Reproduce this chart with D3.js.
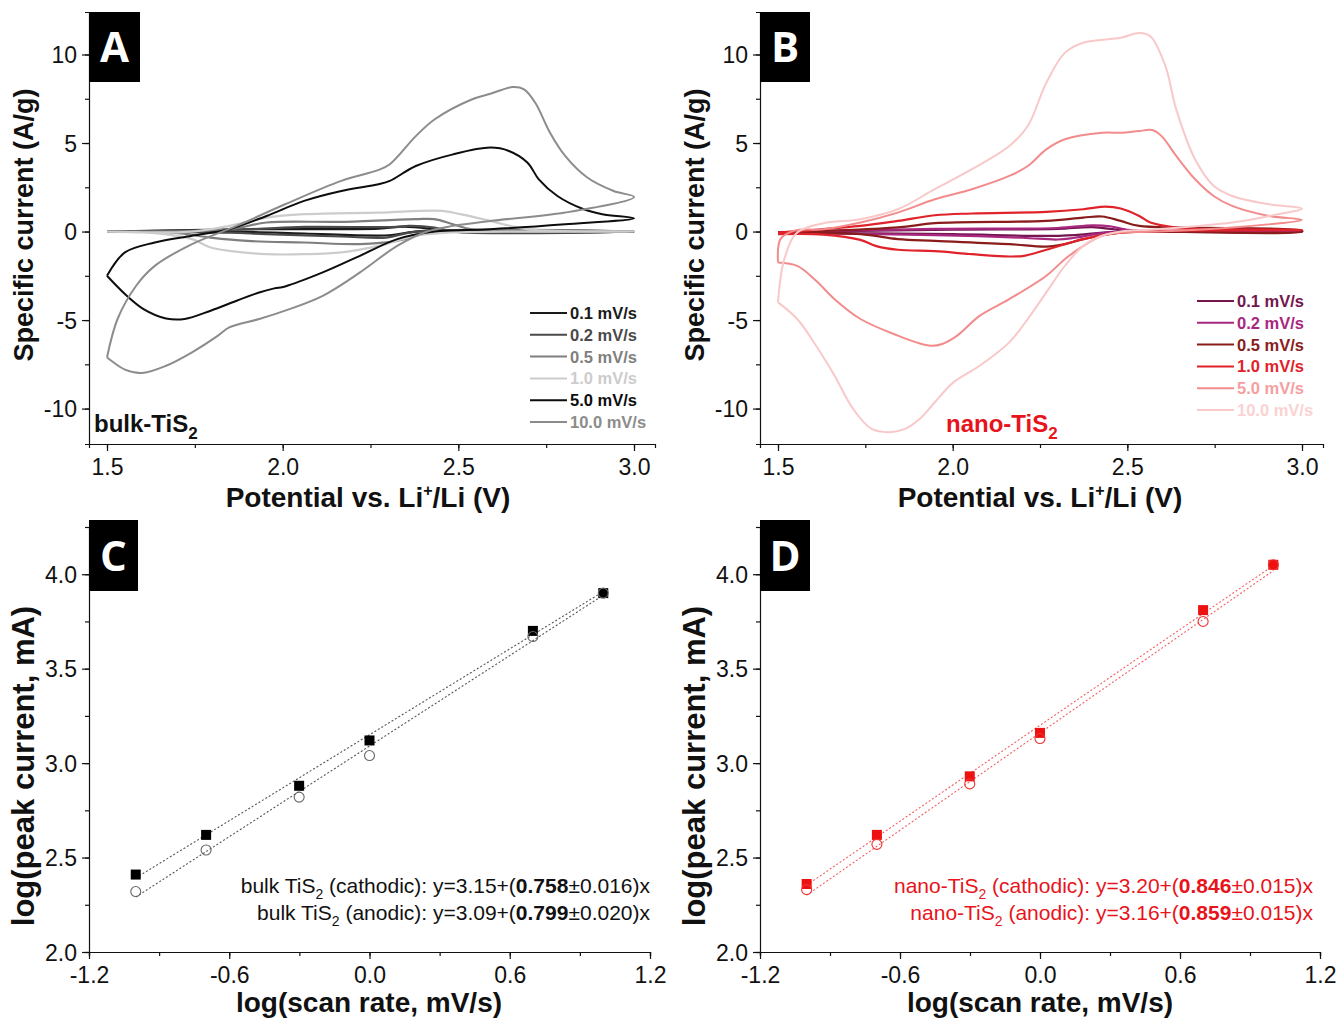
<!DOCTYPE html>
<html>
<head>
<meta charset="utf-8">
<script src="https://cdn.jsdelivr.net/npm/d3@7"></script>
<style>
  body { margin: 0; background: #fff; }
  svg { display: block; font-family: "Liberation Sans", Arial, sans-serif; }
</style>
</head>
<body>
<svg id="fig" width="1338" height="1021"></svg>
<script>
// ---- data --------------------------------------------------------------
var rateLabels = ['0.1 mV/s', '0.2 mV/s', '0.5 mV/s', '1.0 mV/s', '5.0 mV/s', '10.0 mV/s'];

// bulk TiS2, [potential V, current A/g], anodic sweep then cathodic sweep
var bulk01 = [[1.5,0],[1.9,0.13],[2.273,0.17],[2.347,0.28],[2.432,0.13],[2.485,0],[3.0,0],
  [2.379,0],[2.305,-0.21],[2.061,-0.11],[1.9,-0.02],[1.5,0]];
var bulk02 = [[1.5,0],[1.9,0.13],[2.061,0.26],[2.326,0.26],[2.358,0.32],[2.432,0.23],[2.485,0],[3.0,0],
  [2.379,0],[2.295,-0.34],[2.167,-0.28],[1.954,-0.15],[1.848,-0.06],[1.5,0]];
var bulk05 = [[1.5,0],[1.848,0.13],[1.954,0.51],[2.167,0.55],[2.379,0.7],[2.432,0.7],[2.485,0.41],[2.538,0.13],[3.0,0],
  [2.432,0],[2.326,-0.53],[2.22,-0.71],[2.061,-0.62],[1.9,-0.53],[1.795,-0.34],[1.689,-0.06],[1.5,0]];
var bulk10 = [[1.5,0],[1.742,0],[1.848,0.32],[1.954,0.79],[2.061,0.98],[2.273,1.07],[2.453,1.17],[2.506,0.98],[2.591,0.6],[2.697,0.13],[3.0,0],
  [2.48,-0.05],[2.379,-0.24],[2.273,-0.81],[2.167,-1.18],[2.061,-1.28],[1.954,-1.28],[1.848,-1.09],[1.795,-0.9],[1.742,-0.43],[1.636,-0.09],[1.5,-0.02]];
var bulk50 = [[1.5,-2.5],[1.551,-1.18],[1.636,-0.62],[1.742,-0.24],[1.848,0.13],[1.954,0.88],[2.061,1.73],[2.167,2.29],[2.273,2.67],[2.305,2.86],[2.379,3.7],[2.485,4.36],[2.591,4.74],[2.644,4.55],[2.697,3.89],[2.729,2.95],[2.782,2.01],[2.857,1.26],[2.91,0.98],[3.0,0.75],
  [2.804,0.41],[2.591,0.13],[2.432,0],[2.326,-0.43],[2.22,-1.37],[2.114,-2.31],[2.007,-3.1],[1.976,-3.21],[1.933,-3.44],[1.869,-3.91],[1.795,-4.47],[1.721,-4.94],[1.668,-4.91],[1.604,-4.38],[1.551,-3.53],[1.5,-2.5]];
var bulk100 = [[1.5,-7.11],[1.53,-4.94],[1.583,-3.06],[1.636,-1.94],[1.742,-0.71],[1.869,0.32],[2.007,1.54],[2.167,2.86],[2.273,3.48],[2.305,3.8],[2.379,5.39],[2.432,6.33],[2.538,7.46],[2.591,7.78],[2.655,8.16],[2.687,8.03],[2.719,7.27],[2.761,5.58],[2.804,4.27],[2.867,3.05],[2.942,2.29],[3.0,1.95],
  [2.804,1.07],[2.591,0.6],[2.485,0.32],[2.411,0],[2.326,-0.81],[2.22,-2.31],[2.114,-3.63],[2.007,-4.47],[1.933,-4.94],[1.848,-5.41],[1.816,-5.88],[1.742,-6.82],[1.668,-7.58],[1.599,-7.99],[1.551,-7.8],[1.5,-7.11]];

// nano TiS2
var nano01 = [[1.5,-0.03],[2.0,0.1],[2.3,0.15],[2.4,0.25],[2.5,0.05],[3.0,0.02],
  [3.0,0],[2.45,-0.03],[2.35,-0.2],[2.25,-0.25],[2.0,-0.15],[1.5,-0.05]];
var nano02 = [[1.5,-0.04],[1.95,0.15],[2.3,0.2],[2.4,0.35],[2.45,0.3],[2.5,0.1],[3.0,0.02],
  [3.0,0],[2.45,-0.05],[2.35,-0.35],[2.3,-0.45],[2.2,-0.35],[1.95,-0.2],[1.5,-0.08]];
var nano05 = [[1.5,-0.06],[1.843,0.23],[1.949,0.47],[2.268,0.6],[2.374,0.79],[2.428,0.85],[2.481,0.6],[2.534,0.32],[3.0,0.06],
  [3.0,0],[2.481,-0.06],[2.374,-0.43],[2.321,-0.71],[2.268,-0.85],[2.162,-0.71],[1.949,-0.53],[1.843,-0.43],[1.736,-0.15],[1.5,-0.11]];
var nano10 = [[1.5,-0.06],[1.736,0.32],[1.843,0.6],[1.949,0.92],[2.055,1.02],[2.268,1.11],[2.374,1.26],[2.438,1.41],[2.481,1.3],[2.534,0.88],[2.566,0.51],[2.64,0.23],[2.747,0.13],[3.0,0.09],
  [2.481,-0.06],[2.374,-0.43],[2.268,-1.03],[2.204,-1.37],[2.162,-1.41],[2.055,-1.28],[1.949,-1.11],[1.843,-1.03],[1.779,-0.81],[1.736,-0.47],[1.63,-0.17],[1.5,-0.15]];
var nano50 = [[1.5,-1.75],[1.507,-0.43],[1.545,0.04],[1.63,0.13],[1.736,0.51],[1.843,1.07],[1.949,1.82],[2.055,2.39],[2.162,3.14],[2.215,3.7],[2.268,4.64],[2.321,5.21],[2.428,5.58],[2.481,5.58],[2.534,5.68],[2.571,5.73],[2.598,5.39],[2.64,4.27],[2.694,2.95],[2.747,2.01],[2.8,1.45],[2.906,0.88],[3.0,0.66],
  [2.8,0.23],[2.587,0],[2.481,-0.06],[2.428,-0.24],[2.374,-0.81],[2.321,-1.56],[2.268,-2.5],[2.162,-3.82],[2.077,-4.76],[2.013,-5.88],[1.97,-6.35],[1.938,-6.45],[1.896,-6.26],[1.843,-5.88],[1.736,-4.94],[1.662,-3.82],[1.609,-2.78],[1.555,-1.94],[1.5,-1.75]];
var nano100 = [[1.5,-4.0],[1.518,-1.56],[1.555,-0.06],[1.63,0.47],[1.736,0.7],[1.843,1.26],[1.949,2.39],[2.055,3.52],[2.162,4.83],[2.215,5.96],[2.268,8.4],[2.321,10.09],[2.374,10.66],[2.481,10.94],[2.534,11.22],[2.566,11.03],[2.609,9.34],[2.64,6.9],[2.694,4.08],[2.747,2.58],[2.8,2.01],[2.906,1.54],[3.0,1.3],
  [2.906,0.88],[2.8,0.51],[2.587,0.13],[2.481,0],[2.428,-0.24],[2.374,-0.81],[2.321,-1.94],[2.268,-3.44],[2.215,-4.94],[2.162,-6.26],[2.077,-7.58],[2.002,-8.52],[1.949,-9.64],[1.906,-10.58],[1.864,-11.15],[1.821,-11.33],[1.768,-11.15],[1.715,-10.02],[1.662,-8.14],[1.609,-6.45],[1.555,-4.94],[1.5,-4.0]];

// log(scan rate) vs log(peak current)
var logRate = [-1, -0.699, -0.301, 0, 0.699, 1];
var bulkCath = [2.41, 2.62, 2.88, 3.12, 3.70, 3.90];
var bulkAnod = [2.32, 2.54, 2.82, 3.04, 3.67, 3.90];
var nanoCath = [2.36, 2.62, 2.93, 3.16, 3.81, 4.05];
var nanoAnod = [2.33, 2.57, 2.89, 3.13, 3.75, 4.05];
var bulkFit = [[3.15, 0.758], [3.09, 0.799]];   // [intercept, slope] cathodic, anodic
var nanoFit = [[3.20, 0.846], [3.16, 0.859]];

var cvTicks = [1.5, 1.75, 2.0, 2.25, 2.5, 2.75, 3.0];
var cvYTicks = [-10, -7.5, -5, -2.5, 0, 2.5, 5, 7.5, 10];
var logXTicks = [-1.2, -0.9, -0.6, -0.3, 0, 0.3, 0.6, 0.9, 1.2];
var logYTicks = [2.0, 2.25, 2.5, 2.75, 3.0, 3.25, 3.5, 3.75, 4.0, 4.25];

var bulkColors = ['#1a1a1a', '#4a4a4a', '#7f7f7f', '#cccccc', '#0d0d0d', '#8c8c8c'];
var nanoColors = ['#741650', '#a8287f', '#8a1c1c', '#e0232b', '#f28c8c', '#f9c8c8'];
var nanoText = ['#741650', '#a8287f', '#8a1c1c', '#e0232b', '#f4a0a0', '#fad2d2'];

// ---- helpers ------------------------------------------------------------
var svg = d3.select('#fig');

function axes(x, y, xMaj, xMin, yMaj, yMin, xfmt, yfmt, y0, x0) {
  var gx = svg.append('g').attr('transform', 'translate(0,' + y0 + ')');
  gx.call(d3.axisBottom(x).tickValues(xMin).tickSizeOuter(0).tickSize(4).tickFormat(''));
  var gx2 = svg.append('g').attr('transform', 'translate(0,' + y0 + ')');
  gx2.call(d3.axisBottom(x).tickValues(xMaj).tickSizeOuter(0).tickSize(7).tickFormat(xfmt));
  gx2.select('.domain').remove();
  var gy = svg.append('g').attr('transform', 'translate(' + x0 + ',0)');
  gy.call(d3.axisLeft(y).tickValues(yMin).tickSizeOuter(0).tickSize(4).tickFormat(''));
  var gy2 = svg.append('g').attr('transform', 'translate(' + x0 + ',0)');
  gy2.call(d3.axisLeft(y).tickValues(yMaj).tickSizeOuter(0).tickSize(7).tickFormat(yfmt));
  gy2.select('.domain').remove();
  [gx, gx2, gy, gy2].forEach(function(g){
    g.selectAll('path, line').attr('stroke', '#111').attr('stroke-width', 1.2);
    g.selectAll('text').attr('fill', '#111').style('font-size', '23px')
      .style('font-family', '"Liberation Sans", Arial, sans-serif');
  });
  gx2.selectAll('text').attr('dy', null).attr('y', 31);
  gy2.selectAll('text').attr('x', -12).attr('dy', '0.36em');
}

function letterBox(x, y, w, h, letter) {
  svg.append('rect').attr('x', x).attr('y', y).attr('width', w).attr('height', h).attr('fill', '#000');
  svg.append('text').attr('x', x + w / 2).attr('y', y + h / 2 + 15).attr('text-anchor', 'middle')
    .attr('fill', '#fff').style('font-family', '"Open Sans", sans-serif').style('font-weight', 700)
    .style('font-size', '42px').text(letter);
}

function yTitle(cx, cy, txt, size) {
  svg.append('text').attr('transform', 'translate(' + cx + ',' + cy + ') rotate(-90)')
    .attr('text-anchor', 'middle').style('font-weight', 700).style('font-size', size + 'px').attr('fill', '#111')
    .text(txt);
}

function cvPanel(series, colors, textColors, x0, x1, xL, xR, legX, legY0, nameX, name, nameColor) {
  var perV = (xR - xL) / 1.5;
  var x = d3.scaleLinear().domain([1.5 - (xL - x0) / perV, 1.5 + (x1 - xL) / perV]).range([x0, x1]);
  var y = d3.scaleLinear().domain([-12, 12.4]).range([444, 12]);
  var fmt = function(d){ return d.toFixed(1); };
  axes(x, y, [1.5, 2.0, 2.5, 3.0], cvTicks, [-10, -5, 0, 5, 10], cvYTicks, fmt, function(d){ return String(d); }, 444, x0);

  var line = d3.line().x(function(d){ return x(d[0]); }).y(function(d){ return y(d[1]); })
    .curve(d3.curveCatmullRom.alpha(0.5));
  svg.append('g').selectAll('path').data(series).enter().append('path')
    .attr('d', line).attr('fill', 'none')
    .attr('stroke', function(d, i){ return colors[i]; })
    .attr('stroke-width', function(d, i){ return i < 4 ? 2.2 : 2; });

  var leg = svg.append('g');
  rateLabels.forEach(function(r, i){
    var yy = legY0 + i * 21.8;
    leg.append('line').attr('x1', legX).attr('x2', legX + 37).attr('y1', yy).attr('y2', yy)
      .attr('stroke', colors[i]).attr('stroke-width', 2);
    leg.append('text').attr('x', legX + 40).attr('y', yy + 6).attr('fill', textColors[i])
      .style('font-weight', 700).style('font-size', '16.5px').text(r);
  });

  var t = svg.append('text').attr('x', nameX).attr('y', 432).attr('fill', nameColor)
    .style('font-weight', 700).style('font-size', '24px');
  t.append('tspan').text(name);
  t.append('tspan').attr('dy', 7).style('font-size', '17px').text('2');
}

function logPanel(cath, anod, fits, markColor, circColor, lineColor, x0, x1, textRight, lines) {
  var x = d3.scaleLinear().domain([-1.2, 1.2]).range([x0, x1]);
  var y = d3.scaleLinear().domain([2.0, 4.25]).range([952, 527]);
  var fmt = function(d){ return d.toFixed(1); };
  axes(x, y, [-1.2, -0.6, 0, 0.6, 1.2], logXTicks, [2.0, 2.5, 3.0, 3.5, 4.0], logYTicks, fmt, fmt, 952, x0);

  var g = svg.append('g');
  fits.forEach(function(f){
    g.append('line').attr('x1', x(-1)).attr('x2', x(1))
      .attr('y1', y(f[0] - f[1])).attr('y2', y(f[0] + f[1]))
      .attr('stroke', lineColor).attr('stroke-width', 1.1).attr('stroke-dasharray', '2,2');
  });
  g.selectAll('.sq').data(cath).enter().append('rect')
    .attr('x', function(d, i){ return x(logRate[i]) - 5; })
    .attr('y', function(d){ return y(d) - 5; })
    .attr('width', 10).attr('height', 10).attr('fill', markColor);
  g.selectAll('.ci').data(anod).enter().append('circle')
    .attr('cx', function(d, i){ return x(logRate[i]); })
    .attr('cy', function(d){ return y(d); })
    .attr('r', 5).attr('fill', 'none').attr('stroke', circColor).attr('stroke-width', 1.1);

  lines.forEach(function(L, i){
    var t = svg.append('text').attr('x', textRight).attr('y', 893 + i * 27).attr('text-anchor', 'end')
      .attr('fill', L.color).style('font-size', '21px');
    t.append('tspan').text(L.pre);
    t.append('tspan').attr('dy', 6).style('font-size', '14px').text('2');
    t.append('tspan').attr('dy', -6).text(L.mid);
    t.append('tspan').style('font-weight', 700).text(L.bold);
    t.append('tspan').text(L.post);
  });
}

// ---- panels -------------------------------------------------------------
cvPanel([bulk01, bulk02, bulk05, bulk10, bulk50, bulk100], bulkColors, bulkColors,
  89, 655, 107, 634, 530, 313, 94, 'bulk-TiS', '#111');
cvPanel([nano01, nano02, nano05, nano10, nano50, nano100], nanoColors, nanoText,
  760, 1323, 778, 1302, 1197, 301, 946, 'nano-TiS', '#e8131b');

logPanel(bulkCath, bulkAnod, bulkFit, '#000', '#666', '#555', 89, 650, 650, [
  {pre: 'bulk TiS', mid: ' (cathodic): y=3.15+(', bold: '0.758', post: '\u00b10.016)x', color: '#111'},
  {pre: 'bulk TiS', mid: ' (anodic): y=3.09+(', bold: '0.799', post: '\u00b10.020)x', color: '#111'}]);
logPanel(nanoCath, nanoAnod, nanoFit, '#ee1111', '#ee3333', '#f06060', 760, 1320, 1313, [
  {pre: 'nano-TiS', mid: ' (cathodic): y=3.20+(', bold: '0.846', post: '\u00b10.015)x', color: '#e8131b'},
  {pre: 'nano-TiS', mid: ' (anodic): y=3.16+(', bold: '0.859', post: '\u00b10.015)x', color: '#e8131b'}]);

letterBox(89, 12, 51, 70, 'A');
letterBox(760, 12, 50, 70, 'B');
letterBox(89, 520, 49, 71, 'C');
letterBox(760, 520, 50, 71, 'D');

yTitle(33, 225, 'Specific current (A/g)', 27);
yTitle(704, 225, 'Specific current (A/g)', 27);
yTitle(34, 766, 'log(peak current, mA)', 31);
yTitle(705, 766, 'log(peak current, mA)', 31);

[[368, 'A'], [1040, 'B']].forEach(function(p){
  var t = svg.append('text').attr('x', p[0]).attr('y', 507).attr('text-anchor', 'middle')
    .style('font-weight', 700).style('font-size', '28px').attr('fill', '#111');
  t.append('tspan').text('Potential vs. Li');
  t.append('tspan').attr('dy', -11).style('font-size', '16px').text('+');
  t.append('tspan').attr('dy', 11).text('/Li (V)');
});
[369, 1040].forEach(function(cx){
  svg.append('text').attr('x', cx).attr('y', 1012).attr('text-anchor', 'middle')
    .style('font-weight', 700).style('font-size', '28px').attr('fill', '#111').text('log(scan rate, mV/s)');
});
</script>
</body>
</html>
